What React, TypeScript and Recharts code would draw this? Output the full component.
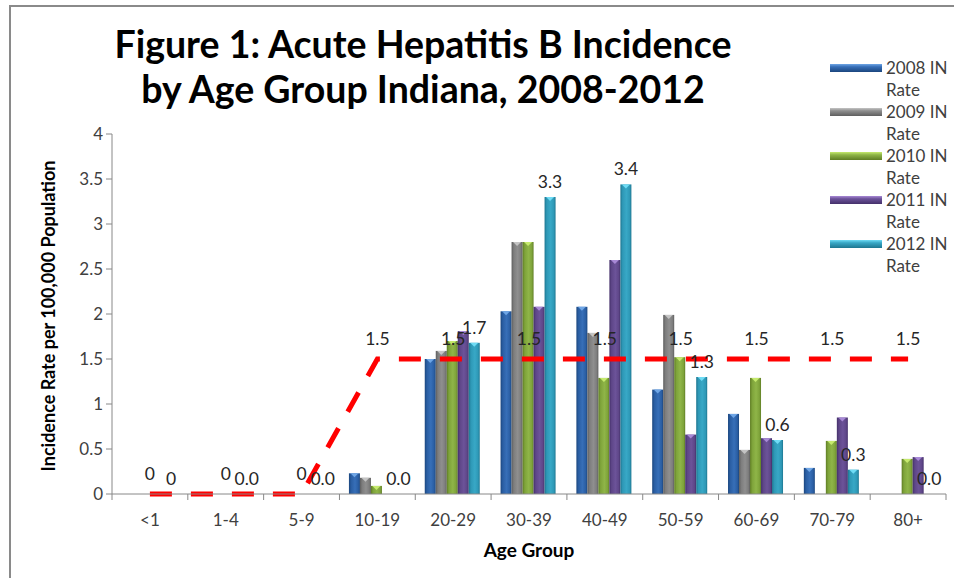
import React from 'react';
import { ComposedChart, Bar, Line, XAxis, YAxis, LabelList, Legend } from 'recharts';

const categories = ['<1', '1-4', '5-9', '10-19', '20-29', '30-39', '40-49', '50-59', '60-69', '70-79', '80+'];
const rate2008 = [0, 0, 0, 0.23, 1.5, 2.03, 2.08, 1.16, 0.89, 0.29, 0];
const rate2009 = [0, 0, 0, 0.18, 1.59, 2.8, 1.79, 1.99, 0.49, 0, 0];
const rate2010 = [0, 0, 0, 0.09, 1.7, 2.8, 1.29, 1.52, 1.29, 0.59, 0.39];
const rate2011 = [0, 0, 0, 0, 1.81, 2.08, 2.6, 0.66, 0.62, 0.85, 0.41];
const rate2012 = [0, 0, 0, 0, 1.68, 3.3, 3.44, 1.3, 0.6, 0.27, 0];
const labels2012 = ['0', '0.0', '0.0', '0.0', '1.7', '3.3', '3.4', '1.3', '0.6', '0.3', '0.0'];
const targetRate = [0, 0, 0, 1.5, 1.5, 1.5, 1.5, 1.5, 1.5, 1.5, 1.5];
const yTicks = [0, 0.5, 1, 1.5, 2, 2.5, 3, 3.5, 4];

const seriesInfo = [
  { key: 'r2008', name: '2008 IN Rate', dark: '#1b467e', mid: '#2a5ea3', light: '#376fb8', tri: '#6fa6e6' },
  { key: 'r2009', name: '2009 IN Rate', dark: '#5e5e5e', mid: '#7d7d7d', light: '#8f8f8f', tri: '#c4c4c4' },
  { key: 'r2010', name: '2010 IN Rate', dark: '#5f7d24', mid: '#7ea33a', light: '#8fb548', tri: '#c6ea6e' },
  { key: 'r2011', name: '2011 IN Rate', dark: '#44306a', mid: '#5e4688', light: '#6c5399', tri: '#a889d6' },
  { key: 'r2012', name: '2012 IN Rate', dark: '#1d7690', mid: '#2e98b6', light: '#38a8c6', tri: '#6fdcf5' },
];

const data = categories.map((c, i) => ({
  cat: c,
  r2008: rate2008[i],
  r2009: rate2009[i],
  r2010: rate2010[i],
  r2011: rate2011[i],
  r2012: rate2012[i],
  lab2012: labels2012[i],
  target: targetRate[i],
}));

const FONT = 'Lato, "Open Sans", sans-serif';

const makeShape = (s: any) => (props: any) => {
  const { x, y, width, height } = props;
  if (!height || height <= 0.5) return <g />;
  return (
    <g>
      <rect x={x} y={y} width={width} height={height} fill={`url(#grad-${s.key})`} />
      <polygon
        points={`${x + 1.5},${y} ${x + width - 1.5},${y} ${x + width / 2},${y + 4}`}
        fill={s.tri}
      />
    </g>
  );
};

const XTick = (props: any) => {
  const { x, y, payload, index, visibleTicksCount } = props;
  const off = payload.offset || 0;
  const axisY = y - 8;
  return (
    <g>
      <line x1={x - off} y1={axisY} x2={x - off} y2={axisY + 6} stroke="#888" strokeWidth={1} />
      {index === visibleTicksCount - 1 && (
        <line x1={x + off} y1={axisY} x2={x + off} y2={axisY + 6} stroke="#888" strokeWidth={1} />
      )}
      <text x={x} y={y + 24} textAnchor="middle" fontSize={17} fill="#404040" fontFamily={FONT}>
        {payload.value}
      </text>
    </g>
  );
};

const renderLegend = () => (
  <div style={{ fontFamily: FONT, fontSize: 17, color: '#404040' }}>
    {seriesInfo.map((s) => (
      <div key={s.key} style={{ position: 'relative', height: 44 }}>
        <svg width={54} height={10} style={{ position: 'absolute', left: 0, top: 6 }}>
          <defs>
            <linearGradient id={`lg-${s.key}`} x1="0" y1="0" x2="0" y2="1">
              <stop offset="0%" stopColor={s.tri} />
              <stop offset="35%" stopColor={s.light} />
              <stop offset="100%" stopColor={s.dark} />
            </linearGradient>
          </defs>
          <rect x={1} y={1} width={52} height={8} fill={`url(#lg-${s.key})`} />
        </svg>
        <div style={{ position: 'absolute', left: 57, top: 0, lineHeight: '22px', whiteSpace: 'nowrap' }}>
          {s.name.replace(' Rate', '')}
          <br />
          Rate
        </div>
      </div>
    ))}
  </div>
);

export default function App() {
  return (
    <div style={{ position: 'absolute', left: 0, top: 0, width: 954, height: 578, overflow: 'hidden', background: '#fff' }}>
      <div
        style={{
          position: 'absolute',
          left: 9,
          top: 5,
          width: 960,
          height: 600,
          borderLeft: '2px solid #8a8a8a',
          borderTop: '2px solid #8a8a8a',
        }}
      />
      <div
        style={{
          position: 'absolute',
          left: 73,
          top: 21,
          width: 700,
          textAlign: 'center',
          fontFamily: FONT,
          fontWeight: 700,
          fontSize: 37.5,
          lineHeight: '45px',
          color: '#000',
        }}
      >
        Figure 1: Acute Hepatitis B Incidence
        <br />
        by Age Group Indiana, 2008-2012
      </div>
      <div style={{ position: 'absolute', left: 0, top: 0 }}>
        <ComposedChart
          width={954}
          height={578}
          data={data}
          margin={{ top: 134, right: 8, bottom: 54, left: 62 }}
          barCategoryGap="12.5%"
          barGap={0}
        >
          <defs>
            {seriesInfo.map((s) => (
              <linearGradient key={s.key} id={`grad-${s.key}`} x1="0" y1="0" x2="1" y2="0">
                <stop offset="0%" stopColor={s.dark} />
                <stop offset="20%" stopColor={s.mid} />
                <stop offset="55%" stopColor={s.light} />
                <stop offset="85%" stopColor={s.mid} />
                <stop offset="100%" stopColor={s.dark} />
              </linearGradient>
            ))}
          </defs>
          <XAxis
            dataKey="cat"
            height={30}
            tickLine={false}
            tick={<XTick />}
            stroke="#888"
            interval={0}
          />
          <YAxis
            width={50}
            domain={[0, 4]}
            ticks={yTicks}
            stroke="#888"
            tick={{ fontSize: 17, fill: '#404040', fontFamily: FONT }}
            tickSize={6}
            tickMargin={3}
          />
          <Legend
            layout="vertical"
            align="center"
            verticalAlign="middle"
            content={renderLegend}
            wrapperStyle={{ position: 'absolute', left: 829, top: 57, width: 125 }}
          />
          {seriesInfo.map((s) => (
            <Bar
              key={s.key}
              dataKey={s.key}
              name={s.name}
              fill={s.mid}
              isAnimationActive={false}
              shape={makeShape(s)}
            >
              {s.key === 'r2012' && (
                <LabelList
                  dataKey="lab2012"
                  position="top"
                  offset={9}
                  fontSize={17.5}
                  fill="#262626"
                  fontFamily={FONT}
                />
              )}
            </Bar>
          ))}
          <Line
            dataKey="target"
            type="linear"
            stroke="#ff0000"
            strokeWidth={5}
            strokeDasharray="22 19"
            dot={false}
            activeDot={false}
            legendType="none"
            isAnimationActive={false}
          >
            <LabelList
              dataKey="target"
              position="top"
              offset={14}
              fontSize={17.5}
              fill="#262626"
              fontFamily={FONT}
            />
          </Line>
          <text
            x={48}
            y={316}
            transform="rotate(-90 48 316)"
            textAnchor="middle"
            dominantBaseline="central"
            fontSize={18}
            fontWeight={700}
            fontFamily={FONT}
            fill="#000"
          >
            Incidence Rate per 100,000 Population
          </text>
          <text
            x={529}
            y={549}
            textAnchor="middle"
            dominantBaseline="central"
            fontSize={19}
            fontWeight={700}
            fontFamily={FONT}
            fill="#000"
          >
            Age Group
          </text>
        </ComposedChart>
      </div>
    </div>
  );
}
